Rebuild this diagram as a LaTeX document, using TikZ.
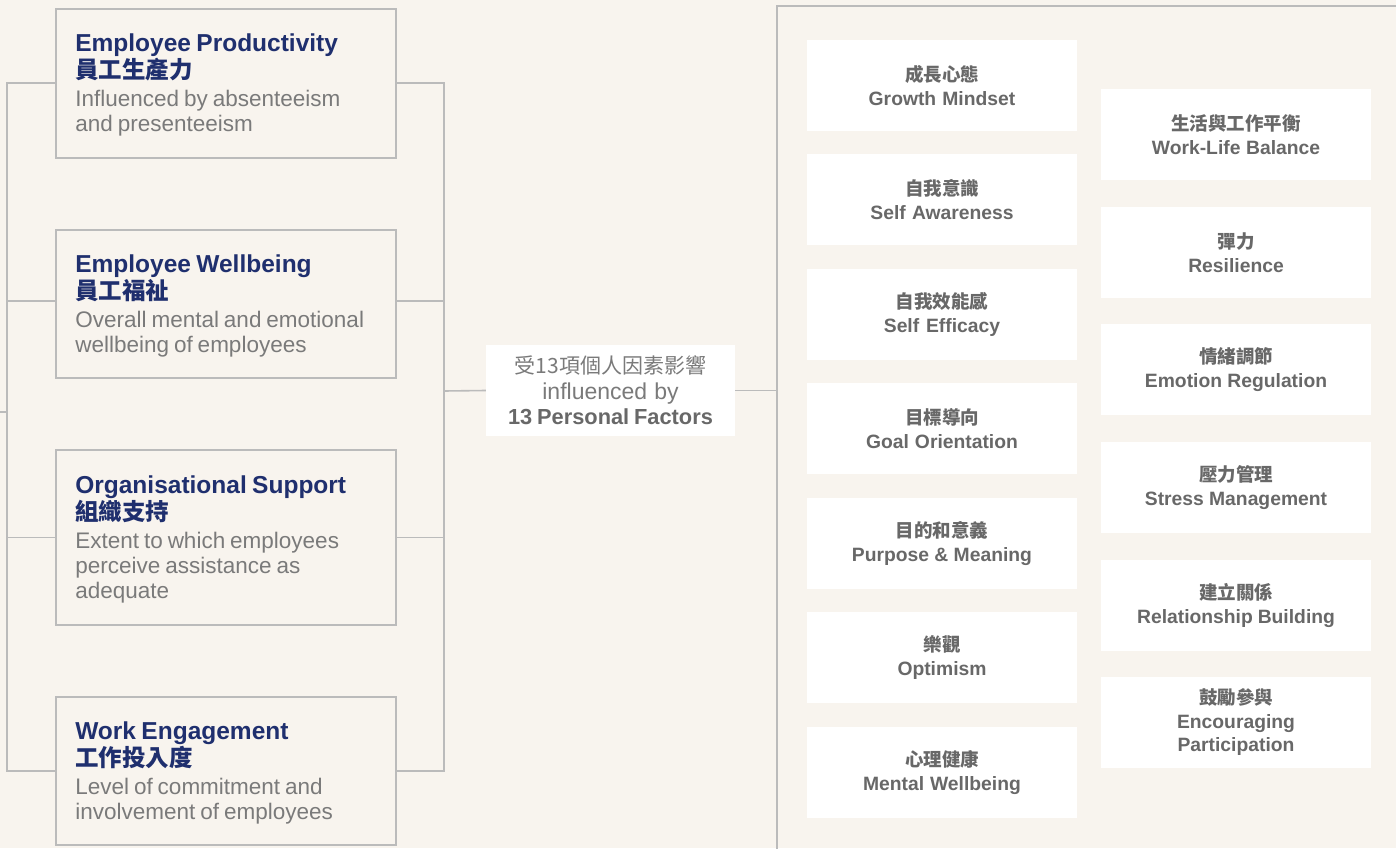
\documentclass[tikz,border=0pt]{standalone}
\usepackage{fontspec}
\setmainfont{Liberation Sans}
\newfontfamily\cjk{Noto Sans CJK TC}
\definecolor{bgc}{HTML}{F8F4EE}
\definecolor{bordc}{HTML}{BBBBBB}
\definecolor{navy}{HTML}{1F2F6E}
\definecolor{descc}{HTML}{7A7A7A}
\definecolor{cardtxt}{HTML}{686868}
\newcommand{\wsp}{\spaceskip=0.22em plus 0.1em minus 0.05em\relax}
\newcommand{\wsq}{\spaceskip=0.17em plus 0.05em minus 0.02em\relax}
\newcommand{\ttl}[2]{{\fontsize{24.5}{27}\selectfont\bfseries\wsp\color{navy}\rule{0pt}{21.5pt}#1\\{\cjk\fontsize{23.5}{27}\selectfont\bfseries #2}\par}\vspace{3pt}}
\newcommand{\dsc}[1]{{\fontsize{22.5}{25}\selectfont\wsp\color{descc}#1\par}}
\newcommand{\fct}[2]{{\cjk\fontsize{18.5}{23}\selectfont\bfseries #1\par}{\fontsize{19.3}{23.5}\selectfont\bfseries\wsq #2\par}}
\tikzset{
  lbox/.style={draw=bordc, line width=1.6pt, anchor=north west, inner xsep=19.5pt, inner ysep=0pt, text width=301pt, align=left},
  conn/.style={draw=bordc, line width=1.6pt},
  card/.style={fill=white, minimum width=270pt, minimum height=91pt, inner sep=0pt, text width=264pt, align=center, text=cardtxt},
  midbox/.style={fill=white, minimum width=249pt, minimum height=91pt, inner sep=0pt, text width=247pt, align=center}
}
\begin{document}
\begin{tikzpicture}[x=1pt,y=-1pt]
\useasboundingbox (0,0) rectangle (1396,848);
\fill[bgc] (0,0) rectangle (1396,848);
\clip (0,0) rectangle (1396,848);
% left boxes
\node[lbox, minimum height=149pt] (b1) at (55,8) {\ttl{Employee Productivity}{員工生產力}\dsc{Influenced by absenteeism\\and presenteeism}};
\node[lbox, minimum height=148pt] (b2) at (55,229) {\ttl{Employee Wellbeing}{員工福祉}\dsc{Overall mental and emotional\\wellbeing of employees}};
\node[lbox, minimum height=175pt] (b3) at (55,449) {\ttl{Organisational Support}{組織支持}\dsc{Extent to which employees\\perceive assistance as\\adequate}};
\node[lbox, minimum height=148pt] (b4) at (55,696) {\ttl{Work Engagement}{工作投入度}\dsc{Level of commitment and\\involvement of employees}};
% middle
\node[midbox] (mid) at (610.5,390.5) {{\cjk\fontsize{21}{25.5}\selectfont\color{descc}受13項個人因素影響\par}{\fontsize{23}{25.5}\selectfont\wsq\color{descc}influenced by\par}{\fontsize{21.8}{25.5}\selectfont\bfseries\wsq\color{cardtxt}13 Personal Factors\par}};
% panel
\node[draw=bordc, line width=1.6pt, anchor=north west, minimum width=660pt, minimum height=900pt, inner sep=0pt] (panel) at (776,5) {};
% bus coordinates
\coordinate (lbus) at (7,412);
\coordinate (lstub) at (-6,412);
\coordinate (rbus) at (444,391);
% connectors
\draw[conn] (b1.west) -| (lbus);
\draw[conn] (b4.west) -| (lbus);
\draw[conn] ([yshift=3pt]b2.west) -- ([yshift=3pt]b2.west -| lbus);
\draw[conn] (b3.west) -- (b3.west -| lbus);
\draw[conn] (lbus) -- (lstub);
\draw[conn] (b1.east) -| (rbus);
\draw[conn] (b4.east) -| (rbus);
\draw[conn] ([yshift=3pt]b2.east) -- ([yshift=3pt]b2.east -| rbus);
\draw[conn] (b3.east) -- (b3.east -| rbus);
\draw[conn] (rbus) -- (mid.west);
\draw[conn] (mid.east) -- (mid.east -| panel.west);
% factor cards left column
\node[card] (f1) at (942,85.5) {\fct{成長心態}{Growth Mindset}};
\node[card] (f2) at (942,199.5) {\fct{自我意識}{Self Awareness}};
\node[card] (f3) at (942,314.5) {\fct{自我效能感}{Self Efficacy}};
\node[card] (f4) at (942,428.5) {\fct{目標導向}{Goal Orientation}};
\node[card] (f5) at (942,543.5) {\fct{目的和意義}{Purpose \& Meaning}};
\node[card] (f6) at (942,657.5) {\fct{樂觀}{Optimism}};
\node[card] (f7) at (942,772.5) {\fct{心理健康}{Mental Wellbeing}};
% right column
\node[card] (g1) at (1236,134.5) {\fct{生活與工作平衡}{Work-Life Balance}};
\node[card] (g2) at (1236,252.5) {\fct{彈力}{Resilience}};
\node[card] (g3) at (1236,369.5) {\fct{情緒調節}{Emotion Regulation}};
\node[card] (g4) at (1236,487.5) {\fct{壓力管理}{Stress Management}};
\node[card] (g5) at (1236,605.5) {\fct{建立關係}{Relationship Building}};
\node[card] (g6) at (1236,722.5) {\fct{鼓勵參與}{Encouraging\\Participation}};
\end{tikzpicture}
\end{document}
